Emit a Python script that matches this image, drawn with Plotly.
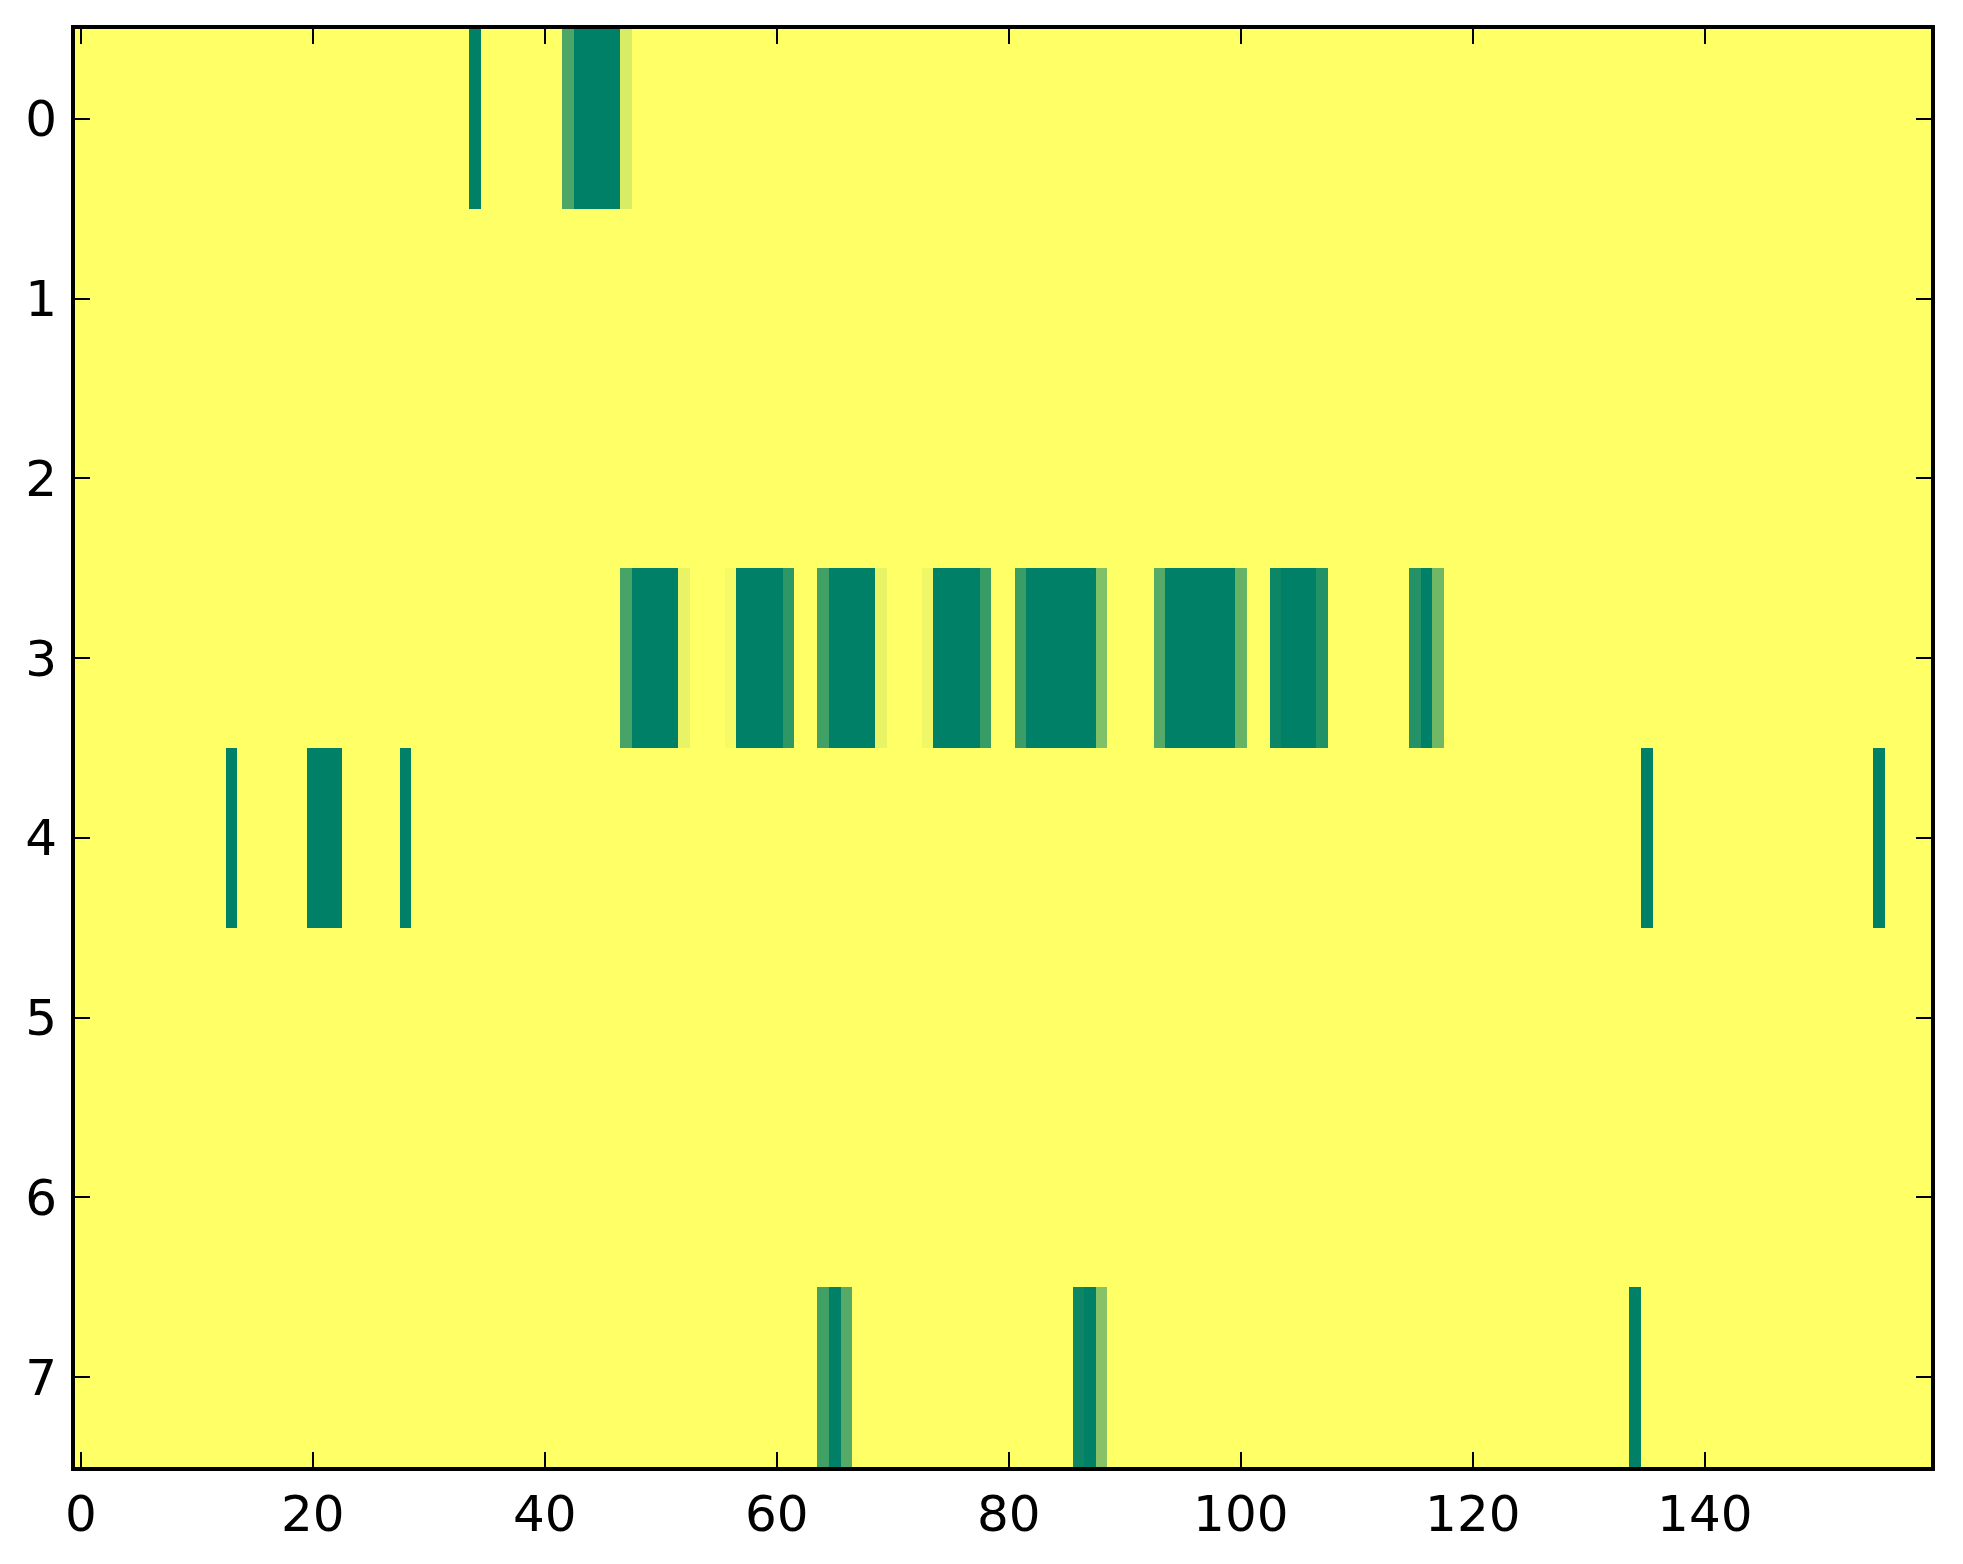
import numpy as np
import plotly.graph_objects as go

# Grid size (rows x columns) of the image
N_ROWS = 8
N_COLS = 160

# Non-zero cells per row: column index and value (0 = yellow, 1 = dark green)
row0_cols = [34, 42, 43, 44, 45, 46, 47]
row0_vals = [1.0, 0.7, 1.0, 1.0, 1.0, 1.0, 0.15]

row3_cols = [47, 48, 49, 50, 51, 52, 56, 57, 58, 59, 60, 61,
             64, 65, 66, 67, 68, 69, 73, 74, 75, 76, 77, 78,
             81, 82, 83, 84, 85, 86, 87, 88, 93, 94, 95, 96, 97, 98, 99, 100,
             103, 104, 105, 106, 107, 115, 116, 117]
row3_vals = [0.72, 1.0, 1.0, 1.0, 1.0, 0.09, 0.04, 1.0, 1.0, 1.0, 1.0, 0.82,
             0.75, 1.0, 1.0, 1.0, 1.0, 0.09, 0.06, 1.0, 1.0, 1.0, 1.0, 0.78,
             0.77, 1.0, 1.0, 1.0, 1.0, 1.0, 1.0, 0.5, 0.67, 1.0, 1.0, 1.0, 1.0, 1.0, 1.0, 0.6,
             0.95, 1.0, 1.0, 1.0, 0.87, 0.86, 1.0, 0.56]

row4_cols = [13, 20, 21, 22, 28, 135, 155]
row4_vals = [1.0, 1.0, 1.0, 1.0, 1.0, 1.0, 1.0]

row7_cols = [64, 65, 66, 86, 87, 88, 134]
row7_vals = [0.75, 1.0, 0.67, 0.95, 1.0, 0.47, 1.0]

X_TICKS = [0, 20, 40, 60, 80, 100, 120, 140]
Y_TICKS = [0, 1, 2, 3, 4, 5, 6, 7]

# matplotlib "summer_r": yellow -> teal green
SUMMER_R = [[0.0, "#ffff66"], [1.0, "#008066"]]


def build_grid():
    z = np.zeros((N_ROWS, N_COLS))
    for row, cols, vals in [(0, row0_cols, row0_vals),
                            (3, row3_cols, row3_vals),
                            (4, row4_cols, row4_vals),
                            (7, row7_cols, row7_vals)]:
        for c, v in zip(cols, vals):
            z[row][c] = v
    return z


def main():
    z = build_grid()

    fig = go.Figure(data=go.Heatmap(
        z=z,
        x=list(range(N_COLS)),
        y=list(range(N_ROWS)),
        colorscale=SUMMER_R,
        zmin=0, zmax=1,
        showscale=False,
    ))

    axis_style = dict(
        showline=True, linecolor="black", linewidth=4,
        mirror="allticks", ticks="inside", ticklen=15, tickwidth=2,
        tickcolor="black", showgrid=False, zeroline=False,
        tickfont=dict(family="DejaVu Sans", size=50, color="black"),
    )

    fig.update_layout(
        width=1963, height=1564,
        margin=dict(l=67, r=40, t=21, b=105),
        paper_bgcolor="white", plot_bgcolor="white",
        xaxis=dict(range=[-0.5, N_COLS - 0.5], tickvals=X_TICKS,
                   ticklabelstandoff=0, **axis_style),
        yaxis=dict(range=[N_ROWS - 0.5, -0.5], tickvals=Y_TICKS,
                   ticklabelstandoff=4, **axis_style),
    )

    fig.write_html("out.html")


if __name__ == "__main__":
    main()
